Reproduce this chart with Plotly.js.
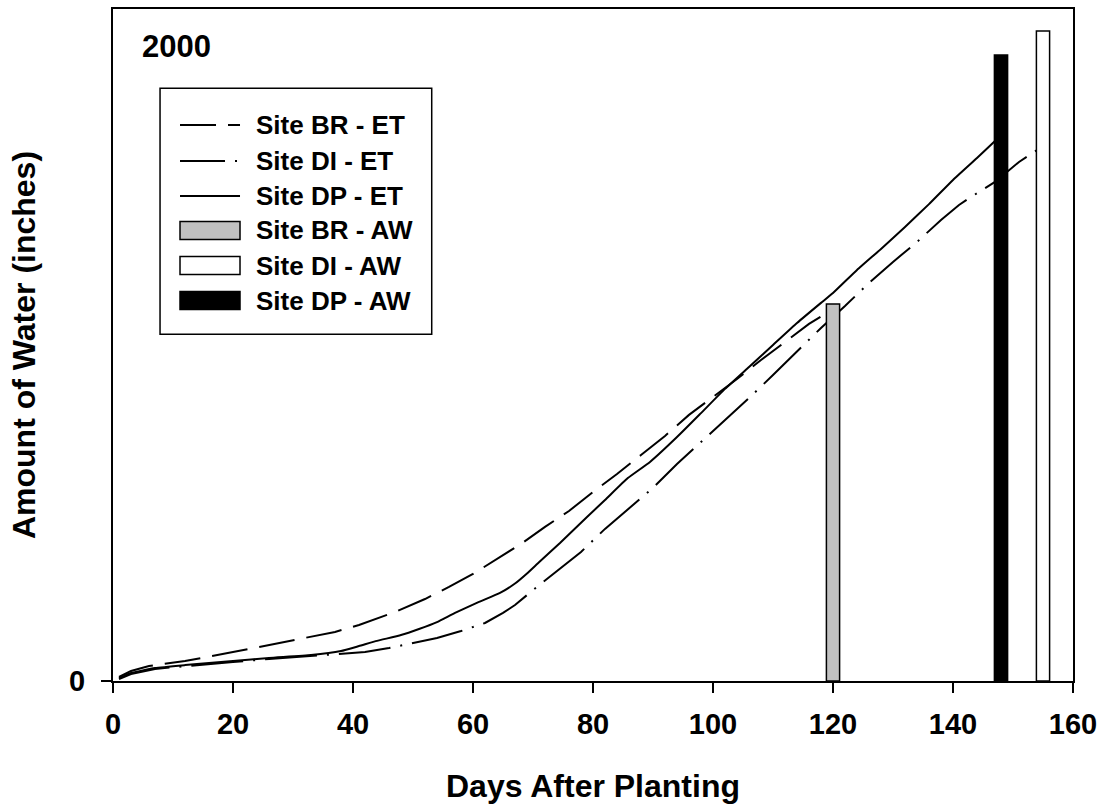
<!DOCTYPE html>
<html>
<head>
<meta charset="utf-8">
<script src="https://cdn.plot.ly/plotly-3.0.1.min.js"></script>
<style>html,body{margin:0;padding:0;background:#fff;}#chart{width:1107px;height:811px;}</style>
</head>
<body>
<div id="chart"></div>
<script>
// ET curves (days after planting, cumulative inches)
const brDays = [1,3,6,12,20,25,32,37,41,47,52,56,60,64,68,72,76,80,84,88,92,96,100,104,108,112,116,119.5];
const brET   = [0.18,0.45,0.67,0.89,1.29,1.56,1.92,2.19,2.50,3.08,3.66,4.20,4.78,5.45,6.12,6.88,7.59,8.44,9.24,10.09,10.94,11.88,12.68,13.48,14.33,15.13,15.94,16.52];

const dpDays = [1,3,7,12,20,26,33,38,41,44,48,51,54,57,61,64.5,67,69,71,74.5,79,82,85.8,89.5,94,98,102,106,110,114,118,120,124,128,132,136,140,144,147];
const dpET   = [0.13,0.36,0.58,0.71,0.89,1.03,1.16,1.34,1.56,1.79,2.05,2.32,2.63,3.04,3.53,3.93,4.35,4.80,5.30,6.16,7.32,8.08,9.06,9.78,10.89,11.96,13.04,14.02,15.00,15.98,16.88,17.32,18.35,19.29,20.27,21.29,22.37,23.35,24.11];

const diDays = [1,3,7,12,20,26,33,38,42,46,50,54,58,62,65,67,70,74,78,82,86,90,94,98,102,106,110,114,118,122,126,130,134,138,141,142.5,147,151,154];
const diET   = [0.09,0.31,0.54,0.67,0.85,0.98,1.12,1.21,1.29,1.47,1.70,1.92,2.23,2.59,3.04,3.39,4.06,4.93,5.76,6.79,7.72,8.62,9.69,10.67,11.65,12.63,13.66,14.73,15.76,16.74,17.77,18.71,19.60,20.58,21.25,21.52,22.28,23.17,23.70];

// Available water bars
const awSites = ['Site BR - AW','Site DI - AW','Site DP - AW'];
const awDays  = [120, 155, 148];
const awVals  = [16.83, 29.02, 27.95];
const awColors = ['#c0c0c0', '#ffffff', '#000000'];

const xTicks = [0,20,40,60,80,100,120,140,160];
const yTicks = [0];
const yTickText = ['0'];

const FONT = 'Liberation Sans, Arial, Helvetica, sans-serif';

const traces = [
  {x: brDays, y: brET, name: 'Site BR - ET', type: 'scatter', mode: 'lines', showlegend: false,
   line: {color: '#000', width: 2, dash: '36px,12px'}, xaxis: 'x', yaxis: 'y'},
  {x: diDays, y: diET, name: 'Site DI - ET', type: 'scatter', mode: 'lines', showlegend: false,
   line: {color: '#000', width: 2, dash: '52px,10px,2px,10px'}, xaxis: 'x', yaxis: 'y'},
  {x: dpDays, y: dpET, name: 'Site DP - ET', type: 'scatter', mode: 'lines', showlegend: false,
   line: {color: '#000', width: 2, shape: 'spline', smoothing: 0.4}, xaxis: 'x', yaxis: 'y'}
];
awSites.forEach((s, i) => {
  traces.push({x: [awDays[i]], y: [awVals[i]], name: s, type: 'bar', width: 2.2, showlegend: false,
    marker: {color: awColors[i], line: {color: '#000', width: 1.5}}, xaxis: 'x2', yaxis: 'y2'});
});

// custom legend geometry (paper coords; plot area 960x672 px)
const L = {x0: 0.049, x1: 0.332, y0: 0.516, y1: 0.882, sx0: 0.0698, sx1: 0.1323, tx: 0.1469,
  rows: [0.8274, 0.7738, 0.7217, 0.6704, 0.6183, 0.5662], rh: 0.0134};
const legendNames = ['Site BR - ET','Site DI - ET','Site DP - ET'].concat(awSites);
const legendDash = ['36px,12px','45px,10px,2px,10px','solid'];

const shapes = [{type: 'rect', xref: 'paper', yref: 'paper', x0: L.x0, x1: L.x1, y0: L.y0, y1: L.y1,
  line: {color: '#000', width: 1.5}, fillcolor: 'rgba(255,255,255,1)', layer: 'above'}];
const annotations = [{xref: 'paper', yref: 'paper', x: 0.028, y: 0.9435, xanchor: 'left', yanchor: 'middle',
  text: '2000', showarrow: false, font: {family: FONT, size: 31, color: '#000', weight: 700}}];
legendNames.forEach((n, i) => {
  const yy = L.rows[i];
  if (i < 3) {
    shapes.push({type: 'line', xref: 'paper', yref: 'paper', x0: L.sx0, x1: L.sx1, y0: yy, y1: yy,
      line: {color: '#000', width: 2, dash: legendDash[i]}, layer: 'above'});
  } else {
    shapes.push({type: 'rect', xref: 'paper', yref: 'paper', x0: L.sx0, x1: L.sx1, y0: yy - L.rh, y1: yy + L.rh,
      line: {color: '#000', width: 1.5}, fillcolor: awColors[i - 3], layer: 'above'});
  }
  annotations.push({xref: 'paper', yref: 'paper', x: L.tx, y: yy, xanchor: 'left', yanchor: 'middle',
    text: n, showarrow: false, font: {family: FONT, size: 26, color: '#000', weight: 700}});
});

const layout = {
  width: 1107, height: 811,
  margin: {l: 113, r: 34, t: 9, b: 130},
  paper_bgcolor: '#fff', plot_bgcolor: '#fff',
  showlegend: false,
  font: {family: FONT, color: '#000'},
  xaxis: {range: [0, 160], tickvals: xTicks, ticks: 'outside', ticklen: 10, tickwidth: 2, tickcolor: '#000',
    showline: true, linewidth: 2, linecolor: '#000', mirror: true, showgrid: false, zeroline: false,
    tickfont: {family: FONT, size: 29, color: '#000', weight: 700}, ticklabelstandoff: 6,
    title: {text: 'Days After Planting', font: {family: FONT, size: 32, color: '#000', weight: 700}, standoff: 36}},
  yaxis: {range: [0, 30], tickvals: yTicks, ticktext: yTickText, ticks: 'outside', ticklen: 10, tickwidth: 2, tickcolor: '#000',
    showline: true, linewidth: 2, linecolor: '#000', mirror: true, showgrid: false, zeroline: false,
    tickfont: {family: FONT, size: 29, color: '#000', weight: 700}, ticklabelstandoff: 10,
    title: {text: 'Amount of Water (inches)', font: {family: FONT, size: 32, color: '#000', weight: 700}, standoff: 24}},
  xaxis2: {range: [0, 160], overlaying: 'x', anchor: 'y2', visible: false, showgrid: false, zeroline: false},
  yaxis2: {range: [0, 30], overlaying: 'y', anchor: 'x2', visible: false, showgrid: false, zeroline: false},
  shapes: shapes,
  annotations: annotations
};

Plotly.newPlot('chart', traces, layout, {displayModeBar: false, staticPlot: true});
</script>
</body>
</html>
